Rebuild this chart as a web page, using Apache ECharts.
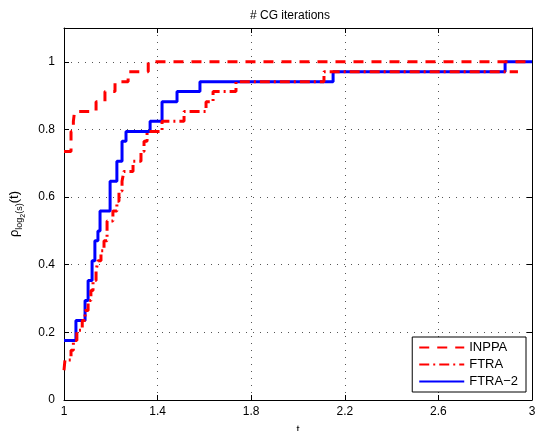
<!DOCTYPE html>
<html>
<head>
<meta charset="utf-8">
<script src="https://cdn.jsdelivr.net/npm/echarts@6/dist/echarts.min.js"></script>
<style>
html,body{margin:0;padding:0;background:#fff;}
#chart{width:535px;height:431px;}
</style>
</head>
<body>
<div id="chart"></div>
<script>
// ---- data (performance profile, 34 problems) ----
const titleText = '# CG iterations';
const seriesNames = ['INPPA', 'FTRA', 'FTRA\u22122'];
const xTicks = [1, 1.4, 1.8, 2.2, 2.6, 3];
const yTicks = [0, 0.2, 0.4, 0.6, 0.8, 1];

const inppaX = [1, 1.030, 1.040, 1.045, 1.137, 1.175, 1.218, 1.274, 1.360, 3];
const inppaY = [0.735, 0.794, 0.824, 0.853, 0.882, 0.912, 0.941, 0.971, 1.0, 1.0];

const ftraX = [1, 1.004, 1.030, 1.040, 1.055, 1.078, 1.090, 1.103, 1.115, 1.124, 1.137, 1.145, 1.158, 1.171, 1.184, 1.209, 1.226, 1.235, 1.248, 1.256, 1.295, 1.329, 1.342, 1.355, 1.419, 1.513, 1.607, 1.637, 1.735, 2.111, 2.94];
const ftraY = [0.088, 0.118, 0.147, 0.176, 0.206, 0.235, 0.265, 0.294, 0.324, 0.353, 0.382, 0.412, 0.441, 0.471, 0.529, 0.559, 0.588, 0.618, 0.647, 0.676, 0.706, 0.735, 0.765, 0.794, 0.824, 0.853, 0.882, 0.912, 0.941, 0.971, 0.971];

const ftra2X = [1, 1.051, 1.090, 1.103, 1.120, 1.132, 1.145, 1.154, 1.197, 1.226, 1.248, 1.265, 1.368, 1.419, 1.483, 1.581, 2.150, 2.885, 3];
const ftra2Y = [0.176, 0.235, 0.294, 0.353, 0.412, 0.471, 0.500, 0.559, 0.647, 0.706, 0.765, 0.794, 0.824, 0.882, 0.912, 0.941, 0.971, 1.0, 1.0];

// ---- chart ----
const X0 = xTicks[0];
function pts(xs, ys) { return xs.map((x, i) => [x - X0, ys[i]]); }
const fmtX = v => String(Math.round((v + X0) * 10) / 10);
const fmtY = v => (v > 1.05 ? '' : String(Math.round(v * 10) / 10));

const font = 'Liberation Sans, Arial, Helvetica, sans-serif';
const gridLine = { show: true, lineStyle: { color: '#555', width: 1, type: [1, 6] } };
const axisLine = { show: true, onZero: false, lineStyle: { color: '#000', width: 1 } };
const tick = { show: true, inside: true, length: 5, lineStyle: { color: '#000' } };

const chart = echarts.init(document.getElementById('chart'), null, { renderer: 'canvas' });
chart.setOption({
  animation: false,
  backgroundColor: '#fff',
  title: {
    text: titleText, left: 245, top: 5,
    textStyle: { fontFamily: font, fontSize: 12, fontWeight: 'normal', color: '#000' }
  },
  grid: { left: 64, right: 3, top: 28, bottom: 31, containLabel: false, outerBoundsMode: 'none' },
  legend: {
    data: seriesNames,
    orient: 'vertical', right: 9, bottom: 39,
    backgroundColor: '#fff', borderColor: '#000', borderWidth: 1, borderRadius: 0,
    padding: [4, 8, 4, 6], itemWidth: 45, itemHeight: 14, itemGap: 4,
    itemStyle: { opacity: 0 },
    textStyle: { fontFamily: font, fontSize: 13, color: '#000' }
  },
  xAxis: [{
    type: 'value', min: 0, max: xTicks[xTicks.length - 1] - X0, interval: 0.4, position: 'bottom',
    axisLine, axisTick: tick, splitLine: gridLine,
    axisLabel: { formatter: fmtX, color: '#000', fontFamily: font, fontSize: 12, margin: 6 },
    name: 't', nameLocation: 'middle', nameGap: 24,
    nameTextStyle: { fontFamily: font, fontSize: 11, color: '#000' }
  }, {
    type: 'value', min: 0, max: xTicks[xTicks.length - 1] - X0, interval: 0.4, position: 'top',
    axisLine, axisTick: tick, axisLabel: { show: false }, splitLine: { show: false }
  }],
  yAxis: [{
    type: 'value', min: 0, max: 1.1, interval: 0.2, position: 'left',
    axisLine, axisTick: tick, splitLine: gridLine,
    axisLabel: { formatter: fmtY, color: '#000', fontFamily: font, fontSize: 12, margin: 9 },
    name: '{r|\u03c1}{s|log}{ss|2}{s|(s)}{r|(t)}',
    nameLocation: 'middle', nameGap: 40, nameRotate: 90,
    nameTextStyle: {
      fontFamily: font, color: '#000',
      rich: {
        r: { fontFamily: font, fontSize: 13, lineHeight: 20, verticalAlign: 'middle', color: '#000' },
        s: { fontFamily: font, fontSize: 9, lineHeight: 20, verticalAlign: 'bottom', color: '#000' },
        ss: { fontFamily: font, fontSize: 7, lineHeight: 20, verticalAlign: 'bottom', padding: [0, 0, -3, 0], color: '#000' }
      }
    }
  }, {
    type: 'value', min: 0, max: 1.1, interval: 0.2, position: 'right',
    axisLine, axisTick: tick, axisLabel: { show: false }, splitLine: { show: false }
  }],
  series: [{
    name: seriesNames[0], type: 'line', step: 'end', showSymbol: false, symbol: 'none', z: 4,
    data: pts(inppaX, inppaY), color: '#ff0000',
    lineStyle: { color: '#ff0000', width: 3, type: [10, 8], cap: 'butt' }
  }, {
    name: seriesNames[1], type: 'line', step: 'end', showSymbol: false, symbol: 'none', z: 3,
    data: pts(ftraX, ftraY), color: '#ff0000',
    lineStyle: { color: '#ff0000', width: 3, type: [10, 4, 2, 4], cap: 'butt' }
  }, {
    name: seriesNames[2], type: 'line', step: 'end', showSymbol: false, symbol: 'none', z: 2,
    data: pts(ftra2X, ftra2Y), color: '#0000ff',
    lineStyle: { color: '#0000ff', width: 3, type: 'solid' }
  }]
});
</script>
</body>
</html>
